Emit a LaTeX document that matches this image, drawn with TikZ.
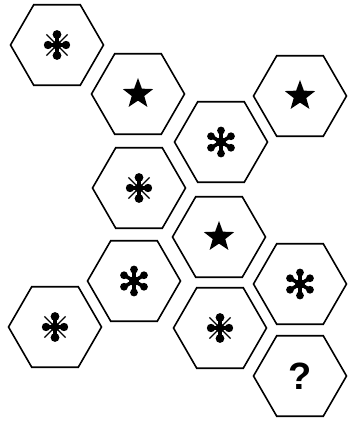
\documentclass[tikz,border=0pt]{standalone}
\usepackage{fontspec}
\setsansfont{Liberation Sans}
\usetikzlibrary{shapes.geometric}

\begin{document}
\begin{tikzpicture}[x=1pt,y=1pt]

	% styles
	\tikzset{
		hexcell/.style = {
			regular polygon, regular polygon sides=6,
			draw, line width=1.6pt,
			minimum size=93pt, inner sep=0pt
		},
		flake/.pic = {
			% thin diagonals
			\draw[line width=1.3pt] (45:15) -- (225:15);
			\draw[line width=1.3pt] (135:15) -- (315:15);
			% thick spokes with round ends
			\foreach \a in {90,270} {
				\draw[line width=3.4pt] (0,0) -- (\a:10.5);
				\fill (\a:10.5) circle (4.4pt);
			}
			\foreach \a in {0,180} {
				\draw[line width=3.4pt] (0,0) -- (\a:9);
				\fill (\a:9) circle (4.2pt);
			}
			\fill (0,0) circle (4.6pt);
		},
		asterisk/.pic = {
			\foreach \a in {30,90,...,330} {
				\draw[line width=3.6pt] (0,0) -- (\a:10.5);
				\fill (\a:11.5) circle (3.9pt);
			}
			\fill (0,0) circle (5pt);
		},
		filledstar/.pic = {
			\fill (90:16) \foreach \a in {0,72,...,288} {
				-- (126+\a:6.6) -- (162+\a:16)} -- cycle;
		}
	}

	\useasboundingbox (0,0) rectangle (350,421);

	% hexagons
	\foreach \n/\x/\y in {1/57/376, 2/138/327, 3/300/325, 4/221/279,
		5/139/233, 6/219/184, 7/134/140, 8/55/94, 9/220/93,
		10/300/137, 11/300/45}
		\node[hexcell] (h\n) at (\x,\y) {};

	% symbols
	\foreach \n in {1,5,8,9} \pic at (h\n) {flake};
	\foreach \n in {4,7,10} \pic at (h\n) {asterisk};
	\foreach \n in {2,3,6} \pic at (h\n) {filledstar};
	\node[font=\sffamily\bfseries\fontsize{38}{40}\selectfont] (q) at (h11) {?};

\end{tikzpicture}
\end{document}
